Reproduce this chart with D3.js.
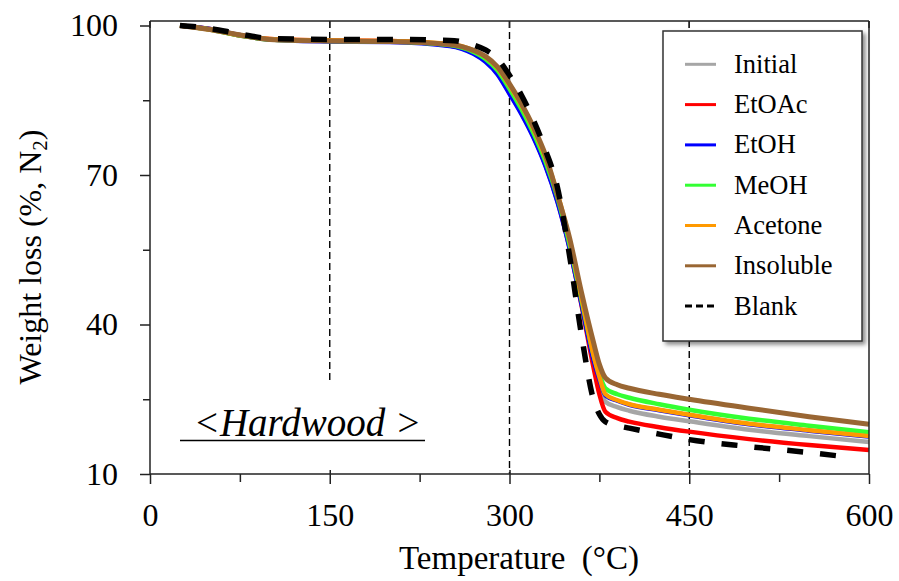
<!DOCTYPE html>
<html>
<head>
<meta charset="utf-8">
<script src="https://cdn.jsdelivr.net/npm/d3@7/dist/d3.min.js"></script>
<style>
  html, body { margin: 0; padding: 0; background: #fff; }
  svg text { font-family: "Liberation Serif", "Times New Roman", serif; fill: #000; }
</style>
</head>
<body>
<svg id="chart" width="899" height="581"></svg>
<script>
// ---------------- data ----------------
const temps = [25, 50, 75, 100, 150, 200, 250, 270, 280, 290, 300, 310, 320, 330, 340, 350, 360, 370, 375, 380, 390, 400, 425, 450, 500, 550, 600];
const initialVals   = [100, 99.2, 98.0, 97.2, 96.9, 96.8, 96.0, 94.5, 93.0, 90.6, 86.8, 82.7, 77.9, 72.2, 65.0, 55.8, 44.5, 33.0, 28.5, 24.5, 23.4, 22.7, 21.5, 20.6, 18.9, 17.6, 16.4];
const etoacVals     = [100, 99.3, 98.0, 97.3, 97.0, 96.9, 96.0, 94.5, 92.9, 90.4, 86.5, 82.4, 77.7, 72.0, 64.8, 55.5, 44.0, 31.5, 26.0, 22.5, 21.2, 20.5, 19.4, 18.5, 17.0, 15.8, 14.8];
const etohVals      = [100, 99.3, 98.1, 97.2, 96.8, 96.7, 95.9, 94.3, 92.7, 90.2, 86.3, 82.2, 77.5, 71.8, 64.6, 55.4, 44.2, 33.0, 29.0, 25.8, 24.7, 23.9, 22.8, 21.8, 20.0, 18.7, 17.5];
const meohVals      = [100, 99.2, 98.0, 97.2, 96.9, 96.8, 96.1, 94.7, 93.3, 91.0, 87.3, 83.2, 78.4, 72.7, 65.5, 56.2, 45.0, 34.0, 30.0, 27.2, 26.0, 25.3, 24.0, 22.9, 21.1, 19.7, 18.4];
const acetoneVals   = [100, 99.2, 98.1, 97.3, 97.0, 96.9, 96.3, 95.0, 93.7, 91.5, 88.0, 84.0, 79.2, 73.5, 66.3, 57.0, 45.5, 34.0, 29.5, 26.0, 24.8, 24.0, 22.9, 21.9, 20.1, 18.8, 17.6];
const insolubleVals = [100, 99.2, 98.1, 97.2, 96.9, 96.8, 96.2, 95.0, 93.8, 91.7, 88.3, 84.3, 79.6, 74.0, 66.0, 57.5, 46.5, 36.5, 32.0, 29.3, 27.9, 27.2, 26.0, 25.0, 23.2, 21.5, 20.0];
const blankTemps = [25, 50, 75, 100, 150, 200, 250, 270, 280, 290, 300, 310, 320, 330, 340, 350, 360, 370, 375, 380, 390, 400, 425, 450, 500, 550, 586];
const blankVals  = [100, 99.4, 98.3, 97.4, 97.2, 97.2, 97.0, 96.1, 95.1, 93.3, 90.0, 86.0, 81.0, 75.0, 67.5, 54.0, 38.0, 25.0, 22.0, 20.5, 19.7, 19.2, 18.0, 16.9, 15.5, 14.3, 13.3];

const seriesNames  = ["Initial", "EtOAc", "EtOH", "MeOH", "Acetone", "Insoluble", "Blank"];
const seriesColors = ["#a6a6a6", "#ff0000", "#0000ff", "#33ff33", "#ff9900", "#996633", "#000000"];

const xTicks = [0, 150, 300, 450, 600];
const xMinorTicks = [75, 225, 375, 525];
const yTicks = [10, 40, 70, 100];
const yMinorTicks = [25, 55, 85];
const xLabel = "Temperature\u00A0\u00A0(°C)";
const annotation = "<Hardwood >";

// ---------------- layout ----------------
const svg = d3.select("#chart");
const pLeft = 150, pRight = 869, pTop = 21, pBottom = 474;
const x = d3.scaleLinear().domain([0, 600]).range([pLeft, pRight]);
const y = d3.scaleLinear().domain([10, 100]).range([pBottom, 25.5]);

const seriesData = [
  {name: seriesNames[0], color: seriesColors[0], t: temps, v: initialVals},
  {name: seriesNames[1], color: seriesColors[1], t: temps, v: etoacVals},
  {name: seriesNames[2], color: seriesColors[2], t: temps, v: etohVals},
  {name: seriesNames[3], color: seriesColors[3], t: temps, v: meohVals},
  {name: seriesNames[4], color: seriesColors[4], t: temps, v: acetoneVals},
  {name: seriesNames[5], color: seriesColors[5], t: temps, v: insolubleVals},
  {name: seriesNames[6], color: seriesColors[6], t: blankTemps, v: blankVals, dashed: true}
];

// reference dashed lines
svg.append("line").attr("x1", x(150)).attr("x2", x(150)).attr("y1", pTop).attr("y2", y(28.5))
  .attr("stroke", "#000").attr("stroke-width", 1.4).attr("stroke-dasharray", "7,4");
[300, 450].forEach(t => {
  svg.append("line").attr("x1", x(t)).attr("x2", x(t)).attr("y1", pTop).attr("y2", pBottom)
    .attr("stroke", "#000").attr("stroke-width", 1.4).attr("stroke-dasharray", "7,4");
});

// curves
const line = d3.line().curve(d3.curveMonotoneX);
seriesData.forEach(s => {
  const pts = s.t.map((t, i) => [x(t), y(s.v[i])]);
  svg.append("path").attr("d", line(pts)).attr("fill", "none")
    .attr("stroke", s.color)
    .attr("stroke-width", s.dashed ? 5.5 : (s.name === "Insoluble" ? 5 : 4.5))
    .attr("stroke-dasharray", s.dashed ? "16,17" : null)
    .attr("stroke-linejoin", "round");
});

// frame (top and right)
svg.append("line").attr("x1", pLeft).attr("x2", pRight).attr("y1", pTop).attr("y2", pTop).attr("stroke", "#222").attr("stroke-width", 1.5);
svg.append("line").attr("x1", pRight).attr("x2", pRight).attr("y1", pTop).attr("y2", pBottom).attr("stroke", "#222").attr("stroke-width", 1.5);
xTicks.forEach(t => {
  svg.append("line").attr("x1", x(t)).attr("x2", x(t)).attr("y1", pTop).attr("y2", pTop + 7).attr("stroke", "#222").attr("stroke-width", 1.5);
});

// x axis
const xAxis = svg.append("g").attr("transform", `translate(0,${pBottom})`)
  .call(d3.axisBottom(x).tickValues(xTicks).tickSize(10).tickPadding(19).tickFormat(d3.format("d")));
xAxis.selectAll("text").attr("font-size", 32).attr("font-family", "Liberation Serif");
xAxis.select(".domain").attr("stroke", "#222").attr("stroke-width", 1.5).attr("d", `M${pLeft},0H${pRight}`);
xAxis.selectAll(".tick line").attr("stroke", "#222").attr("stroke-width", 1.5).attr("y1", d => d === 0 || d === 600 ? 0 : -4);
svg.append("g").attr("transform", `translate(0,${pBottom})`)
  .call(d3.axisBottom(x).tickValues(xMinorTicks).tickSize(8).tickFormat(""))
  .call(g => { g.select(".domain").remove(); g.selectAll("line").attr("stroke", "#222").attr("stroke-width", 1.5); });

// y axis
const yAxis = svg.append("g").attr("transform", `translate(${pLeft},0)`)
  .call(d3.axisLeft(y).tickValues(yTicks).tickSize(10).tickPadding(22).tickFormat(d3.format("d")));
yAxis.selectAll("text").attr("font-size", 32).attr("font-family", "Liberation Serif");
yAxis.select(".domain").attr("stroke", "#222").attr("stroke-width", 1.5).attr("d", `M0,${pTop}V${pBottom}`);
yAxis.selectAll(".tick line").attr("stroke", "#222").attr("stroke-width", 1.5);
svg.append("g").attr("transform", `translate(${pLeft},0)`)
  .call(d3.axisLeft(y).tickValues(yMinorTicks).tickSize(7).tickFormat(""))
  .call(g => { g.select(".domain").remove(); g.selectAll("line").attr("stroke", "#222").attr("stroke-width", 1.5); });

// axis titles
svg.append("text").attr("x", 519).attr("y", 569).attr("text-anchor", "middle")
  .attr("font-size", 33).text(xLabel);
const yt = svg.append("text").attr("transform", "translate(41,257) rotate(-90)").attr("text-anchor", "middle").attr("font-size", 32);
yt.append("tspan").text("Weight loss (%, N");
yt.append("tspan").attr("font-size", 21).attr("dy", 6).text("2");
yt.append("tspan").attr("dy", -6).text(")");

// annotation
svg.append("text").attr("x", 307.5).attr("y", 436).attr("text-anchor", "middle")
  .attr("font-size", 39).attr("font-style", "italic").text(annotation);
svg.append("line").attr("x1", 180).attr("x2", 425).attr("y1", 440.5).attr("y2", 440.5)
  .attr("stroke", "#000").attr("stroke-width", 1.5);

// legend
const defs = svg.append("defs");
const f = defs.append("filter").attr("id", "shadow").attr("x", "-10%").attr("y", "-10%").attr("width", "130%").attr("height", "130%");
f.append("feDropShadow").attr("dx", 3).attr("dy", 3).attr("stdDeviation", 2).attr("flood-color", "#000").attr("flood-opacity", 0.45);
const lg = svg.append("g");
lg.append("rect").attr("x", 663).attr("y", 31).attr("width", 199).attr("height", 310)
  .attr("fill", "#fff").attr("stroke", "#333").attr("stroke-width", 1.5).attr("filter", "url(#shadow)");
seriesData.forEach((s, i) => {
  const cy = 64.3 + i * 40.3;
  lg.append("line").attr("x1", 685).attr("x2", 716).attr("y1", cy).attr("y2", cy)
    .attr("stroke", s.color).attr("stroke-width", 3)
    .attr("stroke-dasharray", s.dashed ? "7,4" : null);
  lg.append("text").attr("x", 734).attr("y", cy + 8.5).attr("font-size", 26.5).text(s.name);
});
</script>
</body>
</html>
